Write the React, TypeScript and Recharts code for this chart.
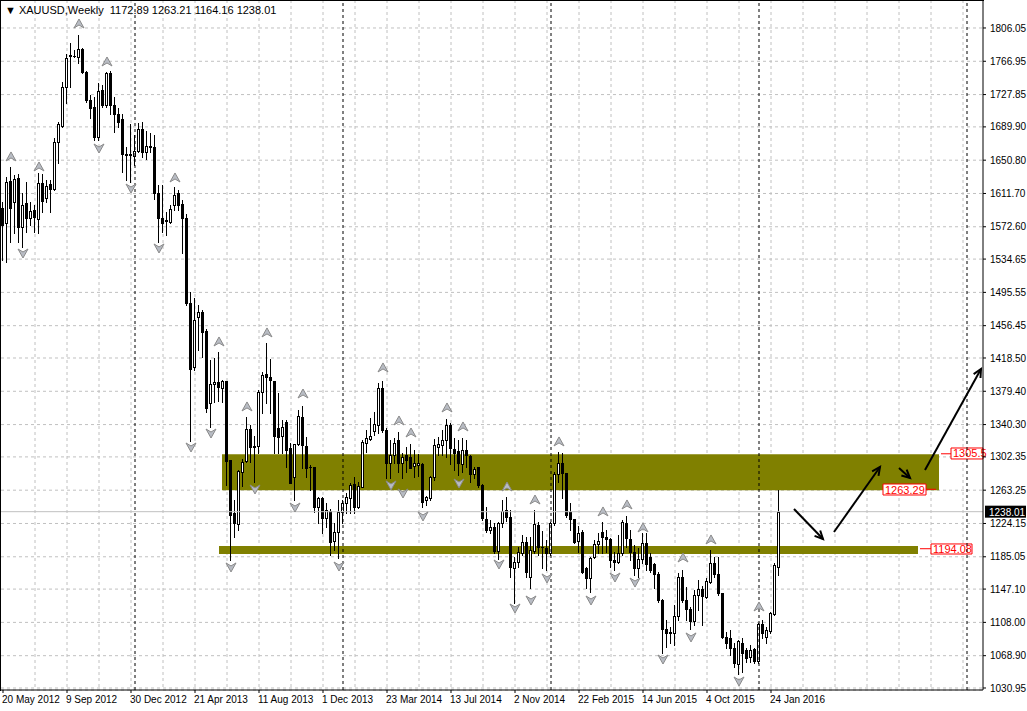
import React from 'react';
import {
  ComposedChart, Bar, XAxis, YAxis, CartesianGrid, ReferenceArea, ReferenceLine, Scatter,
} from 'recharts';

if (typeof document !== 'undefined') {
  document.body.style.margin = '0';
}

// ---------- DATA (weekly XAUUSD, starting 20 May 2012) ----------
const opens = [
  1594.3, 1576.6, 1626.4, 1602.1, 1629.5, 1572.7, 1600.9, 1582.5, 1592.3, 1581.4,
  1624.4, 1606.0, 1622.8, 1616.6, 1671.8, 1691.3, 1736.4, 1773.6, 1773.2, 1772.4,
  1781.0, 1754.8, 1721.5, 1712.9, 1677.7, 1733.2, 1715.6, 1753.6, 1715.6, 1705.0,
  1699.2, 1657.7, 1656.9, 1656.0, 1662.0, 1687.0, 1660.0, 1668.0, 1666.0, 1611.9,
  1582.5, 1580.0, 1578.6, 1598.2, 1611.9, 1599.4, 1582.5, 1482.7, 1408.3, 1467.0,
  1472.1, 1450.2, 1365.3, 1387.6, 1390.0, 1383.6, 1391.5, 1298.7, 1236.9, 1223.6,
  1285.0, 1297.9, 1334.7, 1314.0, 1315.2, 1379.0, 1399.7, 1395.8, 1391.5, 1335.9,
  1327.3, 1343.7, 1312.4, 1278.4, 1317.5, 1349.6, 1315.5, 1290.8, 1290.0, 1243.1,
  1253.7, 1230.2, 1239.2, 1204.0, 1214.5, 1237.3, 1248.6, 1253.7, 1270.6, 1243.9,
  1266.6, 1319.1, 1323.0, 1332.8, 1339.8, 1382.9, 1333.9, 1294.8, 1304.6, 1322.2,
  1295.6, 1304.6, 1302.6, 1291.7, 1293.0, 1294.0, 1251.7, 1253.7, 1278.4, 1314.4,
  1316.3, 1322.2, 1339.8, 1311.2, 1309.3, 1294.0, 1310.5, 1303.4, 1282.3, 1290.0,
  1269.4, 1229.0, 1216.5, 1220.4, 1192.2, 1224.3, 1240.0, 1232.2, 1171.5, 1179.3,
  1189.1, 1202.8, 1161.7, 1192.2, 1222.0, 1196.9, 1195.8, 1189.1, 1224.3, 1282.3,
  1294.8, 1283.0, 1238.0, 1229.0, 1203.4, 1214.5, 1171.5, 1159.8, 1184.4, 1200.1,
  1214.5, 1208.7, 1205.6, 1181.3, 1179.3, 1189.1, 1224.3, 1205.6, 1191.0, 1172.3,
  1182.0, 1201.6, 1184.4, 1176.2, 1164.8, 1134.3, 1099.9, 1096.3, 1095.9, 1115.9,
  1160.9, 1134.3, 1123.3, 1110.0, 1140.2, 1146.8, 1138.2, 1155.8, 1177.4, 1164.8,
  1142.1, 1090.5, 1089.3, 1077.6, 1059.2, 1083.4, 1075.6, 1066.9, 1076.4, 1063.1,
  1106.1, 1090.5, 1098.3, 1117.9, 1172.89,
];
const highs = [
  1602.1, 1631.5, 1643.2, 1633.4, 1634.6, 1611.9, 1625.6, 1602.1, 1598.2, 1635.4,
  1634.6, 1627.5, 1627.5, 1676.5, 1695.3, 1743.0, 1775.1, 1788.8, 1780.2, 1797.8,
  1782.2, 1755.5, 1727.4, 1725.4, 1741.1, 1739.1, 1754.8, 1755.0, 1724.6, 1711.7,
  1705.0, 1666.0, 1693.0, 1680.0, 1694.0, 1696.0, 1685.0, 1683.0, 1680.0, 1621.7,
  1621.7, 1590.4, 1598.2, 1619.0, 1615.8, 1604.1, 1588.0, 1496.4, 1488.6, 1480.7,
  1475.0, 1452.0, 1416.2, 1418.0, 1426.0, 1392.7, 1392.0, 1299.0, 1251.7, 1287.0,
  1299.5, 1348.8, 1340.0, 1327.0, 1381.0, 1402.5, 1435.7, 1417.0, 1392.0, 1377.0,
  1345.7, 1345.7, 1318.3, 1318.0, 1357.4, 1362.0, 1326.0, 1292.8, 1291.0, 1255.7,
  1255.7, 1247.8, 1241.0, 1224.3, 1251.7, 1251.7, 1259.6, 1271.3, 1279.1, 1273.3,
  1322.2, 1334.0, 1347.6, 1355.5, 1388.8, 1392.0, 1335.9, 1322.2, 1324.2, 1331.0,
  1306.5, 1314.4, 1318.0, 1310.5, 1306.0, 1295.0, 1256.4, 1280.0, 1323.0, 1326.0,
  1334.0, 1346.5, 1341.8, 1324.0, 1322.2, 1324.0, 1322.0, 1304.6, 1290.9, 1290.9,
  1270.0, 1243.1, 1228.0, 1225.0, 1226.3, 1251.7, 1255.5, 1240.0, 1185.2, 1196.9,
  1210.6, 1208.7, 1208.7, 1240.0, 1226.0, 1215.0, 1205.0, 1226.3, 1285.0, 1308.5,
  1306.5, 1284.0, 1247.8, 1230.0, 1221.2, 1216.5, 1173.4, 1185.2, 1204.8, 1212.6,
  1226.3, 1216.5, 1206.7, 1191.0, 1210.6, 1228.3, 1233.3, 1216.5, 1198.9, 1195.0,
  1212.6, 1212.6, 1189.1, 1178.0, 1167.6, 1135.0, 1110.8, 1103.0, 1128.4, 1166.0,
  1170.0, 1150.0, 1125.7, 1146.1, 1157.8, 1150.7, 1159.7, 1193.0, 1184.4, 1184.4,
  1143.0, 1097.1, 1099.1, 1083.4, 1087.3, 1089.3, 1078.0, 1081.0, 1078.0, 1106.9,
  1110.8, 1103.0, 1120.6, 1177.4, 1263.21,
];
const lows = [
  1533.6, 1531.6, 1555.1, 1565.0, 1555.1, 1549.3, 1566.9, 1574.7, 1566.9, 1565.0,
  1590.4, 1602.1, 1590.4, 1615.8, 1647.1, 1690.2, 1717.6, 1737.2, 1771.6, 1764.5,
  1752.8, 1719.5, 1700.0, 1674.5, 1674.5, 1713.7, 1713.7, 1705.0, 1684.3, 1690.2,
  1637.3, 1627.5, 1625.0, 1645.0, 1660.0, 1655.0, 1652.0, 1660.0, 1605.0, 1555.1,
  1566.9, 1563.0, 1576.7, 1592.3, 1592.3, 1541.4, 1480.7, 1321.0, 1404.4, 1427.9,
  1420.1, 1355.5, 1337.9, 1367.2, 1368.0, 1367.2, 1269.4, 1181.3, 1208.7, 1216.5,
  1268.2, 1296.8, 1296.0, 1273.0, 1306.6, 1353.5, 1365.3, 1353.5, 1306.6, 1306.6,
  1306.6, 1290.9, 1271.3, 1252.0, 1316.3, 1288.9, 1279.1, 1263.5, 1238.0, 1224.3,
  1212.6, 1220.4, 1187.1, 1193.0, 1183.2, 1225.0, 1236.1, 1236.0, 1236.0, 1242.0,
  1266.6, 1308.5, 1322.0, 1328.0, 1330.0, 1332.0, 1277.2, 1277.2, 1294.8, 1285.0,
  1277.0, 1285.0, 1288.9, 1279.0, 1280.0, 1243.9, 1245.9, 1251.7, 1275.2, 1304.6,
  1304.6, 1302.6, 1294.0, 1287.0, 1281.0, 1285.0, 1291.0, 1273.3, 1277.2, 1267.4,
  1228.2, 1214.5, 1212.6, 1190.0, 1183.0, 1219.6, 1227.5, 1161.7, 1130.4, 1173.4,
  1187.1, 1161.7, 1148.0, 1189.1, 1187.0, 1171.5, 1170.0, 1187.0, 1222.4, 1273.3,
  1253.7, 1232.0, 1216.5, 1200.9, 1191.0, 1165.6, 1148.0, 1144.1, 1183.2, 1189.0,
  1189.0, 1191.0, 1173.4, 1170.0, 1177.4, 1187.0, 1197.0, 1181.3, 1163.7, 1161.7,
  1177.4, 1169.5, 1167.6, 1148.0, 1132.3, 1072.0, 1079.5, 1083.4, 1081.4, 1110.8,
  1132.3, 1110.8, 1099.9, 1105.0, 1122.6, 1104.9, 1136.3, 1153.9, 1161.7, 1140.2,
  1089.3, 1077.6, 1069.7, 1056.0, 1047.4, 1050.1, 1062.0, 1061.0, 1060.0, 1060.0,
  1089.3, 1083.4, 1095.2, 1116.7, 1164.16,
];
const closes = [
  1574.7, 1624.8, 1594.3, 1628.3, 1572.7, 1598.2, 1582.5, 1591.1, 1584.5, 1623.6,
  1603.3, 1620.5, 1616.6, 1671.8, 1693.3, 1736.4, 1770.4, 1774.2, 1773.6, 1781.0,
  1754.8, 1721.5, 1711.7, 1678.4, 1732.1, 1715.6, 1753.6, 1715.6, 1705.0, 1696.0,
  1657.7, 1656.9, 1657.5, 1662.0, 1687.0, 1660.0, 1668.0, 1666.0, 1612.0, 1582.5,
  1576.7, 1579.0, 1593.1, 1610.0, 1598.2, 1582.5, 1482.7, 1405.2, 1463.1, 1472.1,
  1448.6, 1359.4, 1387.6, 1390.0, 1384.0, 1391.5, 1297.0, 1234.1, 1224.3, 1286.2,
  1296.8, 1334.7, 1314.0, 1315.2, 1379.0, 1398.5, 1395.8, 1392.7, 1327.3, 1326.1,
  1337.1, 1310.5, 1272.1, 1317.5, 1350.8, 1316.3, 1288.9, 1290.0, 1243.9, 1253.7,
  1230.2, 1240.0, 1202.8, 1214.5, 1237.3, 1248.6, 1255.7, 1269.4, 1243.9, 1268.2,
  1319.5, 1324.2, 1327.3, 1341.0, 1382.9, 1333.9, 1294.8, 1304.6, 1318.3, 1295.6,
  1302.6, 1298.7, 1288.9, 1294.8, 1295.6, 1249.8, 1254.9, 1278.4, 1316.3, 1317.5,
  1322.2, 1339.8, 1312.4, 1307.3, 1294.8, 1310.5, 1304.6, 1282.3, 1287.7, 1269.4,
  1230.2, 1216.5, 1219.6, 1192.2, 1224.3, 1239.2, 1232.2, 1173.4, 1179.3, 1190.3,
  1202.8, 1167.6, 1193.0, 1223.6, 1196.0, 1196.0, 1189.1, 1224.3, 1282.3, 1294.8,
  1283.0, 1234.1, 1229.0, 1202.8, 1213.4, 1167.6, 1159.8, 1183.2, 1200.1, 1204.0,
  1208.7, 1205.6, 1181.3, 1179.3, 1189.1, 1225.5, 1206.7, 1191.0, 1172.3, 1182.0,
  1200.9, 1176.6, 1169.5, 1164.8, 1134.3, 1099.9, 1095.9, 1095.2, 1115.9, 1160.9,
  1134.3, 1123.3, 1110.0, 1140.2, 1146.8, 1139.0, 1157.0, 1177.4, 1164.8, 1142.1,
  1090.5, 1084.2, 1077.6, 1059.9, 1086.5, 1071.7, 1065.8, 1075.6, 1063.1, 1106.1,
  1095.2, 1099.1, 1118.6, 1175.4, 1238.01,
];

// x-axis date labels, one every 16 weekly bars
const dateLabels = [
  '20 May 2012', '9 Sep 2012', '30 Dec 2012', '21 Apr 2013', '11 Aug 2013', '1 Dec 2013',
  '23 Mar 2014', '13 Jul 2014', '2 Nov 2014', '22 Feb 2015', '14 Jun 2015', '4 Oct 2015', '24 Jan 2016',
];
const labelStep = 16;
const gridStep = 8;
const totalSlots = 245; // includes empty future weeks

// right axis price labels
const yTicks = [
  1806.05, 1766.95, 1727.85, 1689.9, 1650.8, 1611.7, 1572.6, 1534.65, 1495.55, 1456.45,
  1418.5, 1379.4, 1340.3, 1302.35, 1263.25, 1224.15, 1185.05, 1147.1, 1108.0, 1068.9, 1030.95,
];
const yMin = 1028.6;
const yMax = 1838.9;

// yearly separators (bar index of first week of each year)
const yearSeparators = [33, 85, 137, 189, 241];

// Bill Williams fractals
const fractalUpBars = [2, 9, 19, 26, 43, 54, 61, 66, 75, 95, 99, 102, 111, 115, 126, 133, 139, 150, 156, 160, 170, 177, 189];
const fractalUpPrices = [1654.6, 1642.8, 1810.7, 1766.1, 1629.9, 1437.3, 1361.0, 1447.9, 1376.2, 1406.8, 1344.5, 1330.4, 1359.8, 1337.5, 1267.0, 1251.7, 1319.9, 1237.7, 1245.9, 1218.9, 1183.6, 1204.8, 1126.1];
const fractalDownBars = [5, 24, 32, 39, 47, 52, 57, 63, 73, 84, 97, 100, 105, 114, 124, 128, 132, 136, 147, 153, 158, 165, 172, 184];
const fractalDownPrices = [1541.8, 1665.1, 1618.1, 1547.7, 1314.0, 1330.4, 1173.1, 1264.7, 1243.5, 1174.2, 1269.4, 1260.0, 1233.0, 1271.7, 1176.6, 1124.9, 1134.3, 1160.2, 1134.3, 1161.3, 1155.4, 1065.0, 1090.9, 1039.2];

// drawn objects
const zoneTop = 1305.5;
const zoneBottom = 1263.29;
const zoneStartBar = 54.75;
const zoneEndBar = 234;
const supportTop = 1197.7;
const supportBottom = 1188.3;
const supportStartBar = 54;
const supportEndBar = 228.75;
const lastPrice = 1238.01;

const arrowStartBars = [197.75, 207.75, 224, 230.5];
const arrowStartPrices = [1241.2, 1214.2, 1289.3, 1287.0];
const arrowEndBars = [205, 219.25, 226.75, 244.5];
const arrowEndPrices = [1205.9, 1290.5, 1277.5, 1405.6];

const tagTexts = ['1305.5', '1263.29', '1194.08'];
const tagBoxX1 = [237, 220, 232];
const tagBoxX2 = [245, 230.75, 242.25];
const tagBoxTop = [1312.8, 1270.5, 1200.1];
const tagBoxBottom = [1299.9, 1257.6, 1188.3];
const tagLeadFrom = [234.5, 230.75, 229.25];
const tagLeadTo = [237, 233.25, 232];
const tagLeadPrice = [1306.0, 1264.3, 1194.5];

// ---------- build table ----------
const table = Array.from({ length: totalSlots }, (_, i) =>
  i < opens.length
    ? { i, o: opens[i], h: highs[i], l: lows[i], c: closes[i], range: [lows[i], highs[i]] }
    : { i }
);
const tickBars = dateLabels.map((_, k) => k * labelStep);
const gridBars = Array.from({ length: Math.floor(totalSlots / gridStep) + 1 }, (_, k) => k * gridStep);
const upData = fractalUpBars.map((b, k) => ({ x: b, y: fractalUpPrices[k] }));
const downData = fractalDownBars.map((b, k) => ({ x: b, y: fractalDownPrices[k] }));

const FONT = 'Liberation Sans, Arial, sans-serif';

const Candle = (props: any) => {
  const { x, y, width, height, payload } = props;
  if (!payload || payload.o == null || !isFinite(y)) return null;
  const { o, h, l, c } = payload;
  const cx = Math.floor(x + width / 2) + 0.5;
  const k = height / (h - l || 1);
  const yO = y + (h - o) * k;
  const yC = y + (h - c) * k;
  const top = Math.round(Math.min(yO, yC)) + 0.5;
  const bot = Math.round(Math.max(yO, yC)) + 0.5;
  const bull = c >= o;
  return (
    <g>
      <line x1={cx} x2={cx} y1={Math.round(y)} y2={Math.round(y + height) + 1} stroke="#000" strokeWidth={1} />
      <rect x={cx - 1} y={top} width={2} height={Math.max(bot - top, 0.01)} fill={bull ? '#fff' : '#000'} stroke="#000" strokeWidth={1} />
    </g>
  );
};

const FractalUp = (p: any) => {
  const { cx, cy } = p;
  if (cx == null) return null;
  return (
    <path d={`M${cx},${cy - 5} L${cx + 5},${cy + 4} L${cx},${cy + 1} L${cx - 5},${cy + 4} Z`} fill="#b8bcc4" stroke="#8a8a8a" strokeWidth={1} />
  );
};
const FractalDown = (p: any) => {
  const { cx, cy } = p;
  if (cx == null) return null;
  return (
    <path d={`M${cx},${cy + 5} L${cx + 5},${cy - 4} L${cx},${cy - 1} L${cx - 5},${cy - 4} Z`} fill="#b8bcc4" stroke="#8a8a8a" strokeWidth={1} />
  );
};

const ArrowShape = (p: any) => {
  const { x1, y1, x2, y2 } = p;
  if (x1 == null) return null;
  const ang = Math.atan2(y2 - y1, x2 - x1);
  const len = 9;
  const a1 = ang + Math.PI - 0.45;
  const a2 = ang + Math.PI + 0.45;
  return (
    <g>
      <line x1={x1} y1={y1} x2={x2} y2={y2} stroke="#000" strokeWidth={2} />
      <path d={`M${x2 + len * Math.cos(a1)},${y2 + len * Math.sin(a1)} L${x2},${y2} L${x2 + len * Math.cos(a2)},${y2 + len * Math.sin(a2)}`} fill="none" stroke="#000" strokeWidth={2} />
    </g>
  );
};

const DateTick = (props: any) => {
  const { x, y, payload } = props;
  const idx = Math.round(payload.value / labelStep);
  return (
    <text x={x - 1} y={y + 8} textAnchor="start" fontSize={10} fontFamily={FONT} fill="#000">
      {dateLabels[idx]}
    </text>
  );
};

const LastPriceTag = (props: any) => {
  const { viewBox } = props;
  if (!viewBox) return null;
  const x = viewBox.x + viewBox.width + 2;
  const y = viewBox.y;
  return (
    <g>
      <rect x={x} y={y - 6} width={41} height={12} fill="#000" />
      <text x={x + 4} y={y + 4} fontSize={10} fontFamily={FONT} fill="#fff">{lastPrice.toFixed(2)}</text>
    </g>
  );
};

const makeTagLabel = (text: string) => (props: any) => {
  const { viewBox } = props;
  if (!viewBox) return null;
  return (
    <text x={viewBox.x + 2} y={viewBox.y + viewBox.height / 2 + 4} fontSize={11} fontFamily={FONT} fill="#ff0000">{text}</text>
  );
};

export default function App() {
  return (
    <div style={{ position: 'relative', width: 1027, height: 711, background: '#fff' }}>
      <ComposedChart width={1027} height={711} data={table} margin={{ top: 0, right: 0, bottom: 0, left: 1 }}>
        <XAxis
          xAxisId="c"
          dataKey="i"
          type="category"
          ticks={tickBars}
          interval={0}
          padding={{ left: 0, right: 2 }}
          tick={<DateTick />}
          tickSize={3}
          height={21}
          axisLine={{ stroke: '#000' }}
          tickLine={{ stroke: '#000' }}
        />
        <XAxis xAxisId="n" dataKey="x" type="number" domain={[-0.5, 245]} allowDataOverflow hide ticks={gridBars} />
        <YAxis
          orientation="right"
          type="number"
          width={44}
          domain={[yMin, yMax]}
          allowDataOverflow
          ticks={yTicks}
          interval={0}
          tickSize={3}
          tickMargin={4}
          tickFormatter={(v: number) => v.toFixed(2)}
          tick={{ fontSize: 10, fontFamily: FONT, fill: '#000' }}
          axisLine={{ stroke: '#000' }}
          tickLine={{ stroke: '#000' }}
        />
        <ReferenceArea xAxisId="n" x1={zoneStartBar} x2={zoneEndBar} y1={zoneBottom} y2={zoneTop} fill="#808000" fillOpacity={1} stroke="none" />
        <ReferenceArea xAxisId="n" x1={supportStartBar} x2={supportEndBar} y1={supportBottom} y2={supportTop} fill="#808000" fillOpacity={1} stroke="none" />
        <CartesianGrid xAxisId="n" verticalValues={gridBars} stroke="#c0c0c0" strokeDasharray="3 3" />
        {yearSeparators.map((b) => (
          <ReferenceLine key={'sep' + b} xAxisId="n" x={b} stroke="#000" strokeDasharray="3 3" />
        ))}
        <ReferenceLine xAxisId="n" y={lastPrice} stroke="#c0c0c0" label={<LastPriceTag />} />
        <Bar xAxisId="c" dataKey="range" barSize={4} shape={<Candle />} isAnimationActive={false} />
        <Scatter xAxisId="n" data={upData} dataKey="y" shape={<FractalUp />} isAnimationActive={false} />
        <Scatter xAxisId="n" data={downData} dataKey="y" shape={<FractalDown />} isAnimationActive={false} />
        {arrowStartBars.map((b, k) => (
          <ReferenceLine
            key={'arr' + k}
            xAxisId="n"
            ifOverflow="visible"
            segment={[{ x: b, y: arrowStartPrices[k] }, { x: arrowEndBars[k], y: arrowEndPrices[k] }]}
            shape={(p: any) => <ArrowShape {...p} />}
          />
        ))}
        {tagTexts.map((t, k) => (
          <ReferenceLine
            key={'lead' + k}
            xAxisId="n"
            ifOverflow="visible"
            segment={[{ x: tagLeadFrom[k], y: tagLeadPrice[k] }, { x: tagLeadTo[k], y: tagLeadPrice[k] }]}
            stroke="#ff0000"
          />
        ))}
        {tagTexts.map((t, k) => (
          <ReferenceArea
            key={'tag' + k}
            xAxisId="n"
            ifOverflow="visible"
            x1={tagBoxX1[k]}
            x2={tagBoxX2[k]}
            y1={tagBoxBottom[k]}
            y2={tagBoxTop[k]}
            fill="#fff"
            fillOpacity={1}
            stroke="#ff0000"
            label={makeTagLabel(t)}
          />
        ))}
      </ComposedChart>
      <div style={{ position: 'absolute', left: 0, top: 0, width: 984, height: 1, background: '#000' }} />
      <div style={{ position: 'absolute', left: 0, top: 0, width: 1, height: 691, background: '#000' }} />
      <div style={{ position: 'absolute', left: 5, top: 4, fontFamily: FONT, fontSize: 11, color: '#000', whiteSpace: 'pre', lineHeight: '13px', background: 'transparent' }}>
        {'\u25BC XAUUSD,Weekly  1172.89 1263.21 1164.16 1238.01'}
      </div>
    </div>
  );
}
